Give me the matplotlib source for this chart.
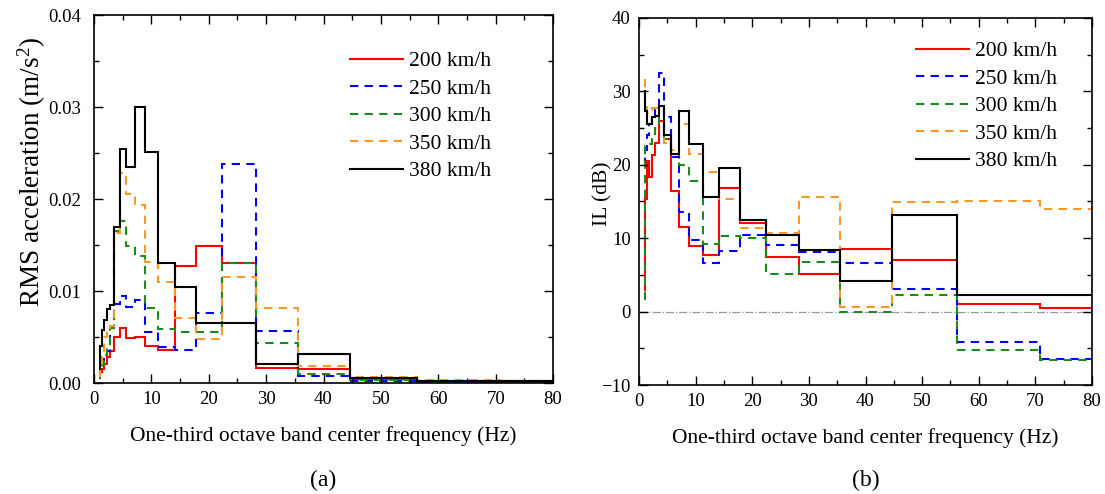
import numpy as np
import matplotlib
matplotlib.use("Agg")
import matplotlib.pyplot as plt
from matplotlib.ticker import MultipleLocator, FormatStrFormatter

plt.rcParams['font.family'] = ['Liberation Serif', 'DejaVu Serif']
plt.rcParams['mathtext.fontset'] = 'custom'
plt.rcParams['mathtext.rm'] = 'Liberation Serif'
plt.rcParams['mathtext.it'] = 'Liberation Serif:italic'

# One-third octave band centre frequencies (Hz)
centers = [1, 1.25, 1.6, 2, 2.5, 3.15, 4, 5, 6.3, 8, 10, 12.5, 16, 20, 25,
           31.5, 40, 50, 63, 80]
speeds = ["200 km/h", "250 km/h", "300 km/h", "350 km/h", "380 km/h"]

# (a) RMS acceleration (m/s^2) per band
rms_200 = [0.0005, 0.0012, 0.0015, 0.0021, 0.0028, 0.0035, 0.0050, 0.0060,
           0.0049, 0.0050, 0.0040, 0.0036, 0.0127, 0.0149, 0.0130, 0.0016,
           0.0015, 0.0004, 0.0002, 0.0002]
rms_250 = [0.0008, 0.0015, 0.0020, 0.0026, 0.0035, 0.0060, 0.0086, 0.0095,
           0.0083, 0.0090, 0.0055, 0.0039, 0.0036, 0.0076, 0.0238, 0.0056,
           0.0008, 0.0002, 0.0001, 0.0001]
rms_300 = [0.0005, 0.0012, 0.0020, 0.0030, 0.0040, 0.0060, 0.0165, 0.0176,
           0.0149, 0.0138, 0.0081, 0.0059, 0.0055, 0.0055, 0.0130, 0.0043,
           0.0010, 0.0003, 0.0001, 0.0001]
rms_350 = [0.0008, 0.0020, 0.0035, 0.0050, 0.0058, 0.0062, 0.0163, 0.0228,
           0.0205, 0.0193, 0.0131, 0.0110, 0.0071, 0.0048, 0.0115, 0.0081,
           0.0019, 0.0006, 0.0003, 0.0002]
rms_380 = [0.0015, 0.0040, 0.0058, 0.0068, 0.0080, 0.0085, 0.0170, 0.0254,
           0.0235, 0.0300, 0.0251, 0.0130, 0.0104, 0.0065, 0.0065, 0.0021,
           0.0031, 0.0005, 0.0002, 0.0002]

# (b) Insertion loss IL (dB) per band
il_200 = [3.0, 15.3, 20.5, 18.3, 21.3, 23.0, 26.0, 23.5, 16.4, 11.5, 9.0, 7.7,
          16.9, 12.1, 7.4, 5.1, 8.5, 7.0, 1.0, 0.5]
il_250 = [20.0, 22.0, 24.0, 25.5, 26.0, 27.5, 32.5, 26.5, 21.0, 13.6, 9.7, 6.6,
          8.2, 10.5, 9.1, 8.1, 6.6, 3.1, -4.1, -6.5]
il_300 = [1.7, 22.5, 22.5, 22.8, 24.0, 25.0, 26.5, 23.5, 21.5, 20.0, 17.8, 9.2,
          10.3, 10.0, 5.1, 6.7, -0.1, 2.2, -5.2, -6.6]
il_350 = [31.5, 28.5, 27.0, 27.5, 27.7, 27.8, 27.8, 23.0, 22.0, 25.5, 21.5, 19.0,
          15.3, 11.4, 10.7, 15.65, 0.6, 14.9, 15.1, 14.0]
il_380 = [30.0, 27.3, 25.5, 25.5, 26.5, 26.7, 28.0, 24.0, 21.5, 27.3, 22.8, 15.6,
          19.5, 12.5, 10.5, 8.4, 4.2, 13.2, 2.3, 2.3]

# band edges from the base-10 one-third octave definition
band_index = np.round(10 * np.log10(centers))
edges = np.concatenate([10 ** ((band_index - 0.5) / 10),
                        [10 ** ((band_index[-1] + 0.5) / 10)]])

styles = [
    dict(color='#ff0000', ls='-'),
    dict(color='#0000ff', ls=(0, (4, 3))),
    dict(color='#1a8a1a', ls=(0, (4, 3))),
    dict(color='#f59a2a', ls=(0, (4, 3))),
    dict(color='#000000', ls='-'),
]

fig = plt.figure(figsize=(11.05, 4.94), dpi=100)
ax1 = fig.add_axes([94 / 1105, 1 - 383 / 494, 459 / 1105, 368 / 494])
ax2 = fig.add_axes([639 / 1105, 1 - 385 / 494, 453 / 1105, 367 / 494])

TICK_FS = 13.5
LAB_FS = 15.5
LEG_FS = 15.5


def style_axis(ax, ypad):
    ax.tick_params(which='both', direction='in', top=True, right=True,
                   labelsize=TICK_FS, width=1.0)
    ax.tick_params(axis='y', which='both', pad=ypad)
    ax.tick_params(axis='x', which='both', pad=6)
    ax.tick_params(which='major', length=6.5)
    ax.tick_params(which='minor', length=3.5)
    for s in ax.spines.values():
        s.set_linewidth(1.2)
    ax.set_xlim(0, 80)
    ax.xaxis.set_major_locator(MultipleLocator(10))
    ax.xaxis.set_minor_locator(MultipleLocator(5))
    ax.set_xlabel('One-third octave band center frequency (Hz)', fontsize=LAB_FS,
                  labelpad=13)


for vals, lab, st in zip([rms_200, rms_250, rms_300, rms_350, rms_380], speeds, styles):
    ax1.stairs(vals, edges, baseline=None, label=lab, lw=1.5, **st)
ax1.set_ylim(0, 0.04)
ax1.yaxis.set_major_locator(MultipleLocator(0.01))
ax1.yaxis.set_minor_locator(MultipleLocator(0.005))
ax1.yaxis.set_major_formatter(FormatStrFormatter('%.2f'))
ax1.set_ylabel('RMS acceleration (m/s$^{2}$)', fontsize=19.5)
ax1.yaxis.set_label_coords(-0.100, 0.575)
style_axis(ax1, 9)

ax2.axhline(0, color='#999999', lw=0.9, ls='-.', zorder=0)
for vals, lab, st in zip([il_200, il_250, il_300, il_350, il_380], speeds, styles):
    ax2.stairs(vals, edges, baseline=None, label=lab, lw=1.5, **st)
ax2.set_ylim(-10, 40)
ax2.yaxis.set_major_locator(MultipleLocator(10))
ax2.yaxis.set_minor_locator(MultipleLocator(5))
ax2.set_ylabel('IL (dB)', fontsize=LAB_FS)
ax2.yaxis.set_label_coords(-0.058, 0.52)
style_axis(ax2, 6)

leg_kw = dict(loc='upper left', frameon=False, fontsize=LEG_FS, handlelength=2.45,
              labelspacing=0.35, handletextpad=0.3, borderpad=0, borderaxespad=0)
ax1.legend(bbox_to_anchor=((350 - 94) / 459, (383 - 51) / 368), **leg_kw)
ax2.legend(bbox_to_anchor=((916 - 639) / 453, (385 - 41) / 367), **leg_kw)

fig.text(0.5 * (94 + 553) / 1105, 1 - 480 / 494, '(a)', ha='center', va='center', fontsize=17)
fig.text(0.5 * (639 + 1092) / 1105, 1 - 480 / 494, '(b)', ha='center', va='center', fontsize=17)

fig.savefig('out.png', dpi=100)
